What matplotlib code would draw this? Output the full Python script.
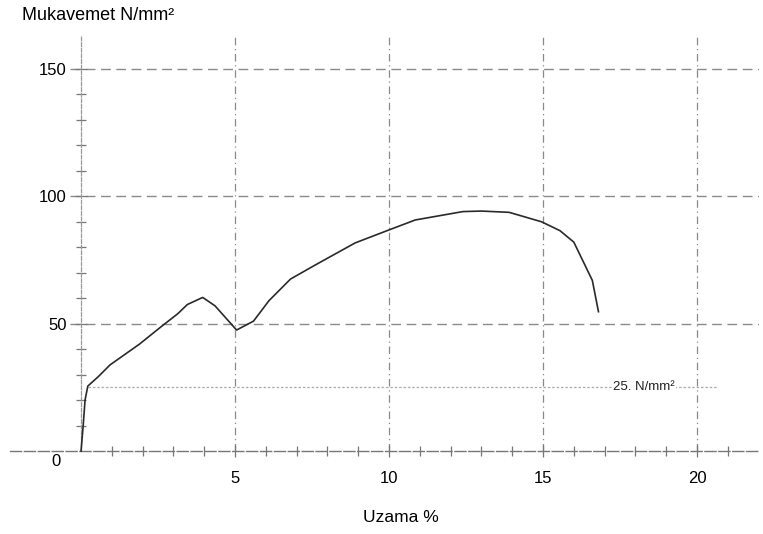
import matplotlib
matplotlib.use("Agg")
from matplotlib import pyplot as plt
from matplotlib.ticker import FixedLocator

plt.rcParams['font.family'] = ['Liberation Sans', 'DejaVu Sans']

# stress-strain curve
uzama = [0, 0.07, 0.13, 0.22, 0.56, 0.94, 1.9, 2.6, 3.15, 3.45, 3.95, 4.35, 5.05,
         5.6, 6.1, 6.8, 7.6, 8.9, 10.0, 10.85, 12.4, 13.0, 13.9, 14.95, 15.55,
         16.0, 16.6, 16.8]
mukavemet = [0, 10, 20, 25.5, 29.2, 33.8, 42, 48.8, 54, 57.5, 60.3, 57, 47.5,
             51, 59, 67.5, 73, 81.7, 86.8, 90.7, 94, 94.2, 93.7, 90, 86.5,
             82, 67, 54.7]

y_grid = [50, 100, 150]
x_grid = [5, 10, 15, 20]
ref_level = 25
ref_label = "25. N/mm²"

fig = plt.figure(figsize=(7.63, 5.34), dpi=100)
ax = fig.add_axes([0.01337, 0.1172, 0.9809, 0.8253])
ax.set_xlim(-2.3, 22.0)
ax.set_ylim(-8, 165)

# grid lines
for y in y_grid:
    ax.plot([-0.36, 22.0], [y, y], color='#8a8a8a', lw=1.0, dashes=(7, 4), zorder=1)
for x in x_grid:
    ax.plot([x, x], [0, 163], color='#8a8a8a', lw=0.9, dashes=(6, 3, 1, 3), zorder=1)

# 25 N/mm2 reference line
ax.plot([0.22, 20.65], [ref_level, ref_level], color='#aaaaaa', lw=0.9, dashes=(2, 1.5), zorder=1)
ax.text(18.28, ref_level, ref_label, fontsize=9.5, ha='center', va='center', color='#222222',
        bbox=dict(facecolor='white', edgecolor='none', pad=1), zorder=3)

# curve
ax.plot(uzama, mukavemet, color='#2a2a2a', lw=1.2, zorder=4)

# axes through origin
for s in ['top', 'right']:
    ax.spines[s].set_visible(False)
ax.spines['left'].set_position(('data', 0))
ax.spines['bottom'].set_position(('data', 0))
ax.spines['left'].set_bounds(0, 163)
ax.spines['bottom'].set_bounds(-2.3, 22.0)
ax.spines['left'].set_color('#999999')
ax.spines['left'].set_linestyle((0, (3, 1.5)))
ax.spines['bottom'].set_color('#777777')
ax.spines['bottom'].set_linestyle((0, (8, 2)))
ax.spines['left'].set_linewidth(0.9)
ax.spines['bottom'].set_linewidth(1.0)

ax.xaxis.set_major_locator(FixedLocator(x_grid))
ax.xaxis.set_minor_locator(FixedLocator([i for i in range(1, 22) if i % 5]))
ax.yaxis.set_major_locator(FixedLocator(y_grid))
ax.yaxis.set_minor_locator(FixedLocator([i for i in range(10, 160, 10) if i % 50]))
ax.tick_params(which='both', direction='inout', color='#777777', width=0.9)
ax.tick_params(which='major', length=9, labelsize=12)
ax.tick_params(which='minor', length=7)
ax.tick_params(axis='x', which='major', pad=10)
ax.tick_params(axis='y', which='major', pad=6)

ax.text(-0.8, -4, "0", fontsize=12, ha='center', va='center')

fig.text(22 / 763, 1 - 15 / 534, "Mukavemet N/mm²", fontsize=13, ha='left', va='center')
fig.text(401 / 763, 1 - 517 / 534, "Uzama %", fontsize=12.5, ha='center', va='center')

fig.savefig("out.png", dpi=100)
